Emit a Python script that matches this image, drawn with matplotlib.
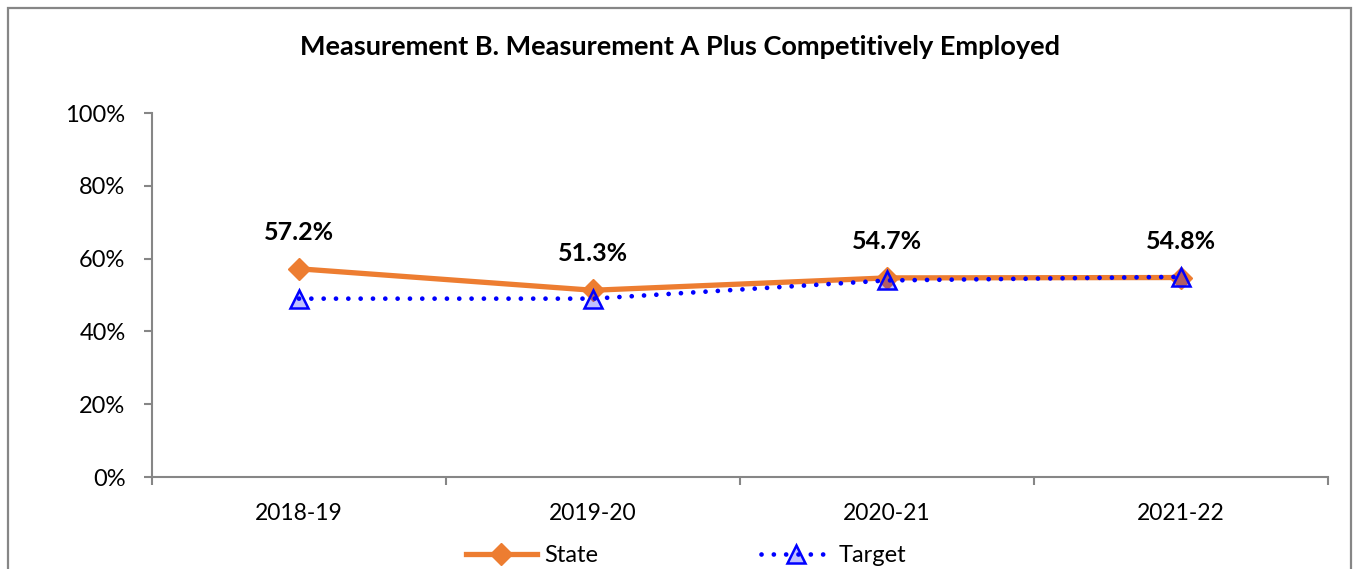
import matplotlib
matplotlib.use("Agg")
import matplotlib.pyplot as plt
from matplotlib.patches import Rectangle
from matplotlib.lines import Line2D
from matplotlib.ticker import PercentFormatter, FixedLocator

plt.rcParams['font.family'] = ['Lato', 'DejaVu Sans']

years = ["2018-19", "2019-20", "2020-21", "2021-22"]
state = [57.2, 51.3, 54.7, 54.8]
target = [49.0, 49.0, 54.0, 55.0]
title = "Measurement B. Measurement A Plus Competitively Employed"

W, H = 1354, 569
fig = plt.figure(figsize=(W / 100, H / 100), dpi=100)
ax = fig.add_axes([152 / W, 1 - 477 / H, (1328 - 152) / W, (477 - 113) / H])

x = list(range(len(years)))
orange = "#ED7D31"
gray = "#868686"

ax.plot(x, state, color=orange, lw=3.8, marker="D", markersize=11,
        markerfacecolor=orange, markeredgecolor=orange, zorder=3,
        solid_capstyle="round")
ax.plot(x, target, color="#0000FF", lw=3.4, linestyle=(0, (0.01, 2.6)),
        dash_capstyle="round", marker="^", markersize=13,
        markerfacecolor=(0, 0, 1, 0.25), markeredgecolor="#0000FF",
        markeredgewidth=1.8, zorder=4)

for xi, v in zip(x, state):
    ax.annotate(f"{v:.1f}%", (xi, v), xytext=(0, 18), textcoords="offset points",
                ha="center", va="bottom", fontsize=18, fontweight="bold")

ax.set_xlim(-0.5, len(years) - 0.5)
ax.set_ylim(0, 100)
ax.yaxis.set_major_locator(FixedLocator([0, 20, 40, 60, 80, 100]))
ax.yaxis.set_major_formatter(PercentFormatter(decimals=0))
ax.set_xticks(x)
ax.set_xticklabels(years)
ax.set_xticks([i - 0.5 for i in range(len(years) + 1)], minor=True)

ax.tick_params(axis="x", which="major", length=0, pad=19, labelsize=16.5)
ax.tick_params(axis="x", which="minor", length=6, width=1.5, color=gray, direction="out")
ax.tick_params(axis="y", length=6, width=1.5, color=gray, direction="out",
               pad=13, labelsize=17)

for s in ("top", "right"):
    ax.spines[s].set_visible(False)
for s in ("left", "bottom"):
    ax.spines[s].set_color(gray)
    ax.spines[s].set_linewidth(1.5)

fig.text(0.5025, 1 - 47 / H, title, ha="center", va="center",
         fontsize=19.5, fontweight="bold")

handles = [
    Line2D([], [], color=orange, lw=3.8, marker="D", markersize=11,
           markerfacecolor=orange, markeredgecolor=orange),
    Line2D([], [], color="#0000FF", lw=3.4, linestyle=(0, (0.01, 2.6)),
           dash_capstyle="round", marker="^", markersize=13,
           markerfacecolor=(0, 0, 1, 0.25), markeredgecolor="#0000FF",
           markeredgewidth=1.8),
]
fig.legend(handles, ["State", "Target"], loc="center",
           bbox_to_anchor=(686 / W, 1 - 556 / H), ncol=2, frameon=False,
           fontsize=17, handlelength=3.0, columnspacing=6.9, handletextpad=0.3)

fig.patches.append(Rectangle((8 / W, -0.1), (1351 - 8) / W, 1.1 - 8 / H,
                             transform=fig.transFigure, fill=False,
                             edgecolor=gray, lw=1.6))

fig.savefig("out.png", dpi=100)
